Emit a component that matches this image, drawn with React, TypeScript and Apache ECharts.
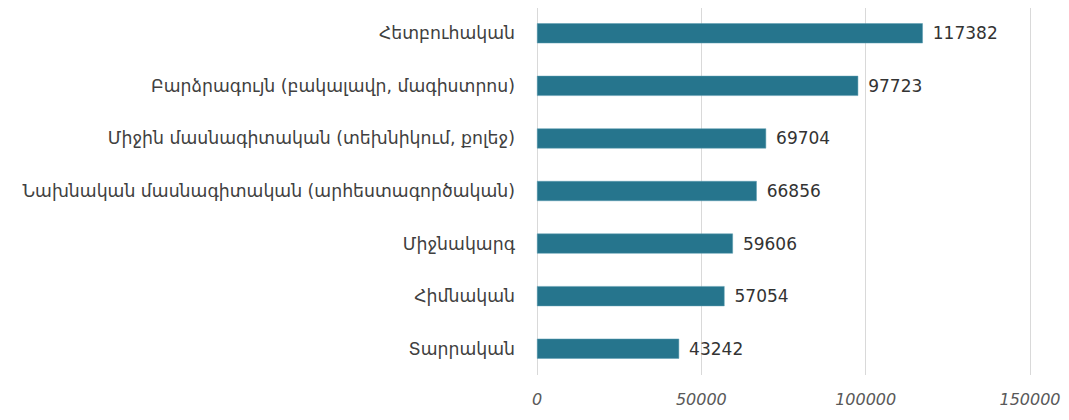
import React, { useEffect, useRef } from "react";
import * as echarts from "echarts";

const categories = [
  "Հետբուհական",
  "Բարձրագույն (բակալավր, մագիստրոս)",
  "Միջին մասնագիտական (տեխնիկում, քոլեջ)",
  "Նախնական մասնագիտական (արհեստագործական)",
  "Միջնակարգ",
  "Հիմնական",
  "Տարրական",
];
const values = [117382, 97723, 69704, 66856, 59606, 57054, 43242];
const axisMin = 0;
const axisMax = 150000;
const axisStep = 50000;

export default function App() {
  const ref = useRef<HTMLDivElement>(null);
  useEffect(() => {
    const chart = echarts.init(ref.current!, null, { renderer: "svg" });
    chart.setOption({
      animation: false,
      grid: { left: 537, right: 39, top: 7, bottom: 45, containLabel: false },
      xAxis: {
        type: "value",
        min: axisMin,
        max: axisMax,
        interval: axisStep,
        axisLine: { show: false },
        axisTick: { show: false },
        splitLine: { lineStyle: { color: "#d9d9d9", width: 1 } },
        axisLabel: {
          color: "#595959",
          fontStyle: "italic",
          fontSize: 16,
          fontFamily: "DejaVu Sans",
          margin: 16,
          formatter: (v: number) => String(v),
        },
      },
      yAxis: {
        type: "category",
        inverse: true,
        data: categories,
        axisLine: { show: false },
        axisTick: { show: false },
        axisLabel: {
          color: "#404040",
          fontSize: 17.3,
          fontFamily: "DejaVu Sans",
          margin: 22,
        },
      },
      series: [
        {
          type: "bar",
          data: values,
          barWidth: 20,
          itemStyle: { color: "#26758D", borderColor: "#5a9cb0", borderWidth: 0.5 },
          label: {
            show: true,
            position: "right",
            distance: 10,
            color: "#333333",
            fontSize: 17,
            fontFamily: "DejaVu Sans",
          },
        },
      ],
    });
    return () => chart.dispose();
  }, []);
  return <div ref={ref} style={{ width: 1069, height: 420, margin: -8 }} />;
}
